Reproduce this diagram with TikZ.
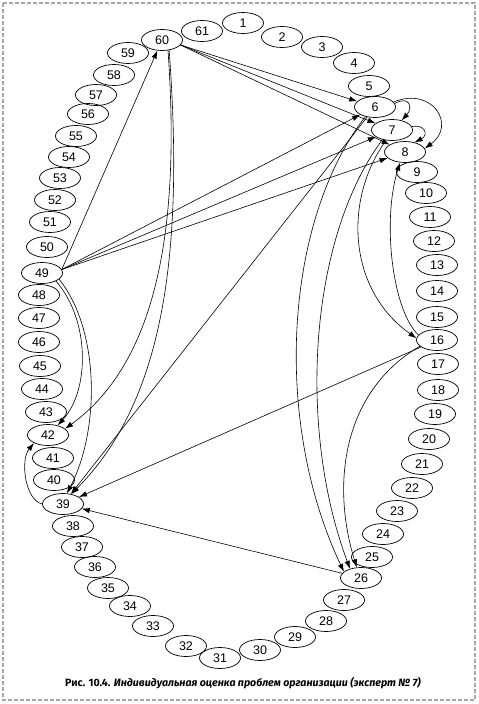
\documentclass[tikz,border=0pt]{standalone}
\usepackage{fontspec}
\setmainfont{Liberation Sans}
\newfontfamily\capfont{Fira Sans}
\usetikzlibrary{shapes.geometric,arrows.meta}
\begin{document}
\begin{tikzpicture}[x=1pt,y=-1pt,
  nd/.style={ellipse,draw,line width=0.7pt,minimum width=41pt,minimum height=21pt,inner sep=0pt,font=\fontsize{12.5}{12.5}\selectfont},
  arr/.style={-{Latex[length=8pt,width=5.5pt]},line width=0.6pt},
  frame/.style={draw=black!35,line width=1.2pt,dash pattern=on 4pt off 2pt}]
\useasboundingbox (0,0) rectangle (479,704);
\draw[frame] (3,3) rectangle (475,700);
% nodes
\foreach \n/\x/\y in {1/243/23,2/282/37,3/322/47,4/354/63,5/369/86,6/375/107,7/392/130,8/405/152,
  9/417/172,10/426/193,11/430/217,12/434/241,13/437/265,14/437/291,15/437/317,16/437/340,
  17/438/364,18/438/390,19/435/414,20/429/439,21/422/464,22/412/488,23/397/511,24/383/534,
  25/372/557,26/361/578,27/344/600,28/326/621,29/295/637,30/260/650,31/220/658,32/186/646,
  33/153/626,34/130/606,35/108/588,36/95/567,37/82/547,38/73/526,39/63/504,40/54/480,
  41/53/458,42/48/435,43/46/412,44/42/389,45/40/366,46/39/342,47/39/318,48/39/295,
  49/42/273,50/47/247,51/50/222,52/55/200,53/60/178,54/69/157,55/76/136,56/88/114,
  57/96/95,58/114/75,59/128/53,60/162/40,61/202/31}
  {\node[nd] (n\n) at (\x,\y) {\n};}
% fan from 49
\draw[arr] (n49.10) -- (n60);
\draw[arr] (n49.10) -- (n6);
\draw[arr] (n49.10) -- (n7);
\draw[arr] (n49.10) -- (n8);
% fan from 60
\draw[arr] (n60.-15) -- (n6);
\draw[arr] (n60.-15) -- (n7);
\draw[arr] (n60.-15) -- (n8);
% 60 down to 42 and 39
\draw[arr] (n60.-60) .. controls (180,220) and (160,360) .. (n42.20);
\draw[arr] (n60.-55) .. controls (184,250) and (165,400) .. (n39.50);
% 49 down to 42 and 39
\draw[arr] (n49.-30) .. controls (90,320) and (90,390) .. (n42.45);
\draw[arr] (n49.-20) .. controls (100,330) and (100,430) .. (n39.70);
% 39 to 42
\draw[arr] (n39.180) .. controls (25,500) and (20,460) .. (n42.-150);
% straight lines to 39
\draw[arr] (n6) -- (n39);
\draw[arr] (n16) -- (n39);
\draw[arr] (n26) -- (n39);
% small arcs among 6,7,8
\draw[arr] (n6.10) .. controls (410,95) and (413,108) .. (n7.45);
\draw[arr] (n6.15) .. controls (432,86) and (457,125) .. (n8.10);
\draw[arr] (n7.10) .. controls (425,124) and (429,135) .. (n8.45);
% 16 to 8, 7 to 16
\draw[arr] (n16.165) .. controls (392,310) and (382,220) .. (n8.-115);
\draw[arr] (n7.-120) .. controls (343,200) and (348,290) .. (n16.175);
% long curves to 26
\draw[arr] (n6.-135) .. controls (285,220) and (272,420) .. (n26.160);
\draw[arr] (n7.-135) .. controls (308,240) and (298,430) .. (n26.140);
\draw[arr] (n16.-160) .. controls (345,390) and (330,480) .. (n26.112);
% caption
\node[font=\capfont\bfseries\fontsize{10.6}{13}\selectfont] (cap) at (243,683)
  {Рис. 10.4. \itshape Индивидуальная оценка проблем организации (эксперт №~7)};
\end{tikzpicture}
\end{document}
